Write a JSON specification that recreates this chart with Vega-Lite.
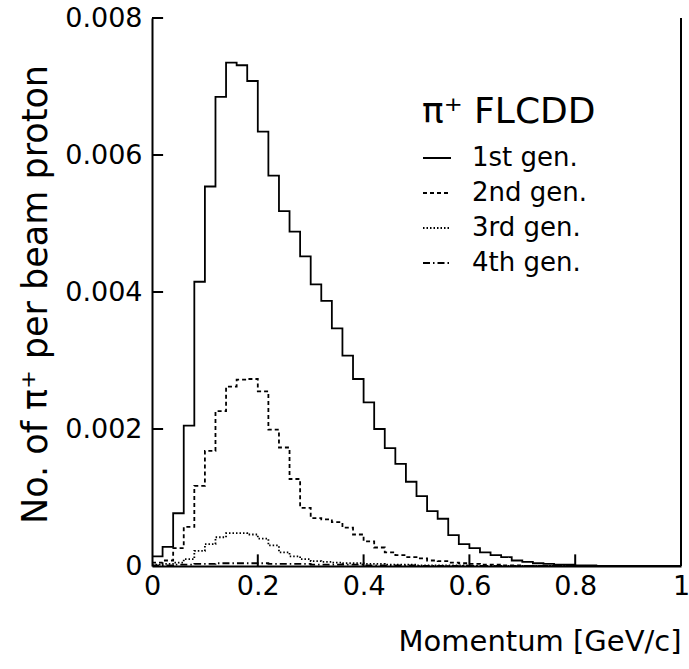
{
  "$schema": "https://vega.github.io/schema/vega-lite/v6.json",
  "width": 529,
  "height": 548,
  "autosize": {"type": "none"},
  "padding": {"left": 152, "top": 18, "right": 8, "bottom": 103},
  "background": "white",
  "config": {"view": {"stroke": null}, "font": "DejaVu Sans"},
  "datasets": {
    "hist": [
      {"g": "1st gen.", "p": 0.00, "n": 0.00014},
      {"g": "1st gen.", "p": 0.02, "n": 0.00028},
      {"g": "1st gen.", "p": 0.04, "n": 0.00077},
      {"g": "1st gen.", "p": 0.06, "n": 0.00205},
      {"g": "1st gen.", "p": 0.08, "n": 0.00415},
      {"g": "1st gen.", "p": 0.10, "n": 0.00554},
      {"g": "1st gen.", "p": 0.12, "n": 0.00685},
      {"g": "1st gen.", "p": 0.14, "n": 0.00735},
      {"g": "1st gen.", "p": 0.16, "n": 0.00731},
      {"g": "1st gen.", "p": 0.18, "n": 0.00708},
      {"g": "1st gen.", "p": 0.20, "n": 0.00634},
      {"g": "1st gen.", "p": 0.22, "n": 0.00570},
      {"g": "1st gen.", "p": 0.24, "n": 0.00518},
      {"g": "1st gen.", "p": 0.26, "n": 0.00488},
      {"g": "1st gen.", "p": 0.28, "n": 0.00452},
      {"g": "1st gen.", "p": 0.30, "n": 0.00411},
      {"g": "1st gen.", "p": 0.32, "n": 0.00387},
      {"g": "1st gen.", "p": 0.34, "n": 0.00347},
      {"g": "1st gen.", "p": 0.36, "n": 0.00307},
      {"g": "1st gen.", "p": 0.38, "n": 0.00273},
      {"g": "1st gen.", "p": 0.40, "n": 0.00239},
      {"g": "1st gen.", "p": 0.42, "n": 0.00200},
      {"g": "1st gen.", "p": 0.44, "n": 0.00172},
      {"g": "1st gen.", "p": 0.46, "n": 0.00149},
      {"g": "1st gen.", "p": 0.48, "n": 0.00123},
      {"g": "1st gen.", "p": 0.50, "n": 0.00102},
      {"g": "1st gen.", "p": 0.52, "n": 0.00080},
      {"g": "1st gen.", "p": 0.54, "n": 0.00069},
      {"g": "1st gen.", "p": 0.56, "n": 0.00045},
      {"g": "1st gen.", "p": 0.58, "n": 0.00032},
      {"g": "1st gen.", "p": 0.60, "n": 0.00026},
      {"g": "1st gen.", "p": 0.62, "n": 0.00020},
      {"g": "1st gen.", "p": 0.64, "n": 0.00016},
      {"g": "1st gen.", "p": 0.66, "n": 0.00013},
      {"g": "1st gen.", "p": 0.68, "n": 0.00008},
      {"g": "1st gen.", "p": 0.70, "n": 0.00006},
      {"g": "1st gen.", "p": 0.72, "n": 0.00004},
      {"g": "1st gen.", "p": 0.74, "n": 0.00003},
      {"g": "1st gen.", "p": 0.76, "n": 0.00002},
      {"g": "1st gen.", "p": 0.78, "n": 0.00002},
      {"g": "1st gen.", "p": 0.80, "n": 0.00001},
      {"g": "1st gen.", "p": 0.82, "n": 0.00001},
      {"g": "1st gen.", "p": 0.84, "n": 0},
      {"g": "1st gen.", "p": 1.00, "n": 0},
      {"g": "2nd gen.", "p": 0.00, "n": 0.00005},
      {"g": "2nd gen.", "p": 0.02, "n": 0.00008},
      {"g": "2nd gen.", "p": 0.04, "n": 0.00026},
      {"g": "2nd gen.", "p": 0.06, "n": 0.00057},
      {"g": "2nd gen.", "p": 0.08, "n": 0.00117},
      {"g": "2nd gen.", "p": 0.10, "n": 0.00168},
      {"g": "2nd gen.", "p": 0.12, "n": 0.00226},
      {"g": "2nd gen.", "p": 0.14, "n": 0.00262},
      {"g": "2nd gen.", "p": 0.16, "n": 0.00272},
      {"g": "2nd gen.", "p": 0.18, "n": 0.00273},
      {"g": "2nd gen.", "p": 0.20, "n": 0.00255},
      {"g": "2nd gen.", "p": 0.22, "n": 0.00199},
      {"g": "2nd gen.", "p": 0.24, "n": 0.00173},
      {"g": "2nd gen.", "p": 0.26, "n": 0.00127},
      {"g": "2nd gen.", "p": 0.28, "n": 0.00085},
      {"g": "2nd gen.", "p": 0.30, "n": 0.00070},
      {"g": "2nd gen.", "p": 0.32, "n": 0.00068},
      {"g": "2nd gen.", "p": 0.34, "n": 0.00064},
      {"g": "2nd gen.", "p": 0.36, "n": 0.00056},
      {"g": "2nd gen.", "p": 0.38, "n": 0.00046},
      {"g": "2nd gen.", "p": 0.40, "n": 0.00036},
      {"g": "2nd gen.", "p": 0.42, "n": 0.00027},
      {"g": "2nd gen.", "p": 0.44, "n": 0.00020},
      {"g": "2nd gen.", "p": 0.46, "n": 0.00016},
      {"g": "2nd gen.", "p": 0.48, "n": 0.00013},
      {"g": "2nd gen.", "p": 0.50, "n": 0.00011},
      {"g": "2nd gen.", "p": 0.52, "n": 0.00008},
      {"g": "2nd gen.", "p": 0.54, "n": 0.00007},
      {"g": "2nd gen.", "p": 0.56, "n": 0.00005},
      {"g": "2nd gen.", "p": 0.58, "n": 0.00004},
      {"g": "2nd gen.", "p": 0.60, "n": 0.00003},
      {"g": "2nd gen.", "p": 0.62, "n": 0.00002},
      {"g": "2nd gen.", "p": 0.64, "n": 0.00002},
      {"g": "2nd gen.", "p": 0.66, "n": 0.00001},
      {"g": "2nd gen.", "p": 0.68, "n": 0.00001},
      {"g": "2nd gen.", "p": 0.70, "n": 0},
      {"g": "2nd gen.", "p": 1.00, "n": 0},
      {"g": "3rd gen.", "p": 0.00, "n": 0.00002},
      {"g": "3rd gen.", "p": 0.02, "n": 0.00003},
      {"g": "3rd gen.", "p": 0.04, "n": 0.00005},
      {"g": "3rd gen.", "p": 0.06, "n": 0.00010},
      {"g": "3rd gen.", "p": 0.08, "n": 0.00022},
      {"g": "3rd gen.", "p": 0.10, "n": 0.00032},
      {"g": "3rd gen.", "p": 0.12, "n": 0.00042},
      {"g": "3rd gen.", "p": 0.14, "n": 0.00048},
      {"g": "3rd gen.", "p": 0.16, "n": 0.00048},
      {"g": "3rd gen.", "p": 0.18, "n": 0.00046},
      {"g": "3rd gen.", "p": 0.20, "n": 0.00040},
      {"g": "3rd gen.", "p": 0.22, "n": 0.00030},
      {"g": "3rd gen.", "p": 0.24, "n": 0.00020},
      {"g": "3rd gen.", "p": 0.26, "n": 0.00014},
      {"g": "3rd gen.", "p": 0.28, "n": 0.00010},
      {"g": "3rd gen.", "p": 0.30, "n": 0.00007},
      {"g": "3rd gen.", "p": 0.32, "n": 0.00006},
      {"g": "3rd gen.", "p": 0.34, "n": 0.00005},
      {"g": "3rd gen.", "p": 0.36, "n": 0.00004},
      {"g": "3rd gen.", "p": 0.38, "n": 0.00004},
      {"g": "3rd gen.", "p": 0.40, "n": 0.00003},
      {"g": "3rd gen.", "p": 0.42, "n": 0.00003},
      {"g": "3rd gen.", "p": 0.44, "n": 0.00002},
      {"g": "3rd gen.", "p": 0.46, "n": 0.00002},
      {"g": "3rd gen.", "p": 0.48, "n": 0.00002},
      {"g": "3rd gen.", "p": 0.50, "n": 0.00001},
      {"g": "3rd gen.", "p": 0.60, "n": 0},
      {"g": "3rd gen.", "p": 1.00, "n": 0},
      {"g": "4th gen.", "p": 0.00, "n": 0.00001},
      {"g": "4th gen.", "p": 0.04, "n": 0.00002},
      {"g": "4th gen.", "p": 0.08, "n": 0.00003},
      {"g": "4th gen.", "p": 0.12, "n": 0.00004},
      {"g": "4th gen.", "p": 0.22, "n": 0.00003},
      {"g": "4th gen.", "p": 0.30, "n": 0.00002},
      {"g": "4th gen.", "p": 0.40, "n": 0.00001},
      {"g": "4th gen.", "p": 0.50, "n": 0},
      {"g": "4th gen.", "p": 1.00, "n": 0}
    ],
    "frame": [{"p": 1}],
    "yticks": [
      {"n": 0.002, "p": 0, "p2": 0.021},
      {"n": 0.004, "p": 0, "p2": 0.021},
      {"n": 0.006, "p": 0, "p2": 0.021},
      {"n": 0.008, "p": 0, "p2": 0.021}
    ],
    "xticks": [
      {"p": 0.2, "n": 0, "n2": 0.00017},
      {"p": 0.4, "n": 0, "n2": 0.00017},
      {"p": 0.6, "n": 0, "n2": 0.00017},
      {"p": 0.8, "n": 0, "n2": 0.00017}
    ]
  },
  "layer": [
    {
      "data": {"name": "hist"},
      "mark": {"type": "line", "interpolate": "step-after", "strokeWidth": 1.8, "color": "black"},
      "encoding": {
        "x": {
          "field": "p", "type": "quantitative",
          "scale": {"domain": [0, 1], "nice": false, "zero": false},
          "axis": {
            "title": "Momentum [GeV/c]",
            "values": [0, 0.2, 0.4, 0.6, 0.8, 1],
            "grid": false, "ticks": false,
            "domainColor": "black", "domainWidth": 2,
            "labelFontSize": 27, "labelColor": "black", "labelPadding": 7, "labelFlush": false,
            "labelExpr": "datum.value == 0 ? '0' : datum.value == 1 ? '1' : format(datum.value, '.1f')",
            "titleFontSize": 29, "titleFontWeight": "normal", "titleColor": "black",
            "titleAnchor": "end", "titleAlign": "right", "titleBaseline": "alphabetic",
            "titleX": 529, "titleY": 84
          }
        },
        "y": {
          "field": "n", "type": "quantitative",
          "scale": {"domain": [0, 0.008], "nice": false},
          "axis": {
            "title": "No. of π⁺ per beam proton",
            "values": [0, 0.002, 0.004, 0.006, 0.008],
            "grid": false, "ticks": false,
            "domainColor": "black", "domainWidth": 2,
            "labelFontSize": 27, "labelColor": "black", "labelPadding": 10, "labelFlush": false,
            "labelExpr": "datum.value == 0 ? '0' : format(datum.value, '.3f')",
            "titleFontSize": 35, "titleFontWeight": "normal", "titleColor": "black",
            "titleAngle": -90, "titleAlign": "center", "titleBaseline": "middle",
            "titleX": -117, "titleY": 276
          }
        },
        "strokeDash": {
          "field": "g", "type": "nominal",
          "scale": {
            "domain": ["1st gen.", "2nd gen.", "3rd gen.", "4th gen."],
            "range": [[1, 0], [4, 3], [1.5, 2], [7, 3, 1.5, 3]]
          },
          "legend": {
            "orient": "none", "legendX": 270, "legendY": 77,
            "title": "π⁺ FLCDD",
            "titleFontSize": 36, "titleFontWeight": "normal", "titleColor": "black", "titlePadding": 12,
            "labelFontSize": 26, "labelColor": "black", "labelOffset": 20,
            "symbolType": "stroke", "symbolSize": 784, "symbolStrokeWidth": 1.8,
            "symbolStrokeColor": "black", "rowPadding": 7, "padding": 0
          }
        }
      }
    },
    {
      "data": {"name": "yticks"},
      "mark": {"type": "rule", "color": "black", "strokeWidth": 2},
      "encoding": {
        "y": {"field": "n", "type": "quantitative"},
        "x": {"field": "p", "type": "quantitative"},
        "x2": {"field": "p2"}
      }
    },
    {
      "data": {"name": "xticks"},
      "mark": {"type": "rule", "color": "black", "strokeWidth": 2},
      "encoding": {
        "x": {"field": "p", "type": "quantitative"},
        "y": {"field": "n", "type": "quantitative"},
        "y2": {"field": "n2"}
      }
    },
    {
      "data": {"name": "frame"},
      "mark": {"type": "rule", "color": "black", "strokeWidth": 2},
      "encoding": {"x": {"field": "p", "type": "quantitative"}}
    }
  ]
}
